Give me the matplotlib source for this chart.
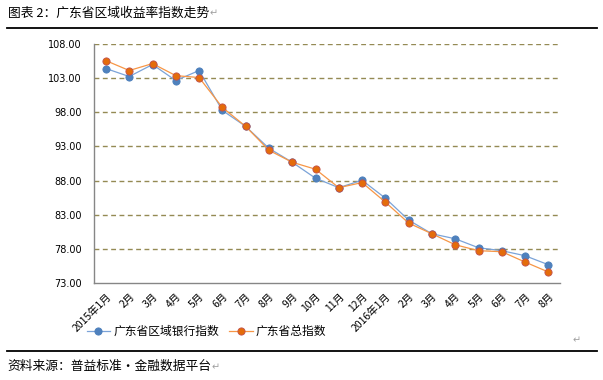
import matplotlib
matplotlib.use('Agg')
import matplotlib.pyplot as plt
from matplotlib.lines import Line2D

plt.rcParams['font.family'] = ['Noto Sans CJK SC', 'DejaVu Sans']

months = ['2015年1月', '2月', '3月', '4月', '5月', '6月', '7月', '8月', '9月', '10月',
          '11月', '12月', '2016年1月', '2月', '3月', '4月', '5月', '6月', '7月', '8月']
bank = [104.44, 103.27, 105.03, 102.68, 104.15, 98.29, 95.95, 92.73, 90.68, 88.34,
        86.95, 88.04, 85.41, 82.19, 80.18, 79.45, 78.13, 77.70, 76.96, 75.64]
total = [105.60, 104.15, 105.17, 103.40, 103.12, 98.73, 95.95, 92.44, 90.68, 89.66,
         86.95, 87.70, 84.83, 81.75, 80.18, 78.57, 77.70, 77.55, 76.03, 74.57]
yticks = [73, 78, 83, 88, 93, 98, 103, 108]
names = ['广东省区域银行指数', '广东省总指数']

W, H = 603, 380
fig = plt.figure(figsize=(W / 100, H / 100), dpi=100)
ax = fig.add_axes([94.3 / W, 1 - 282.7 / H, (560 - 94.3) / W, (282.7 - 44.3) / H])

x = range(len(months))
l1, = ax.plot(x, bank, color='#7BA3D8', lw=0.9, marker='o', ms=5.2,
              mfc='#4F81BD', mec='#4A7EBB', mew=0.6, label=names[0], zorder=3)
l2, = ax.plot(x, total, color='#F79646', lw=0.9, marker='o', ms=5.2,
              mfc='#E46C0A', mec='#C0504D', mew=0.6, label=names[1], zorder=4)

ax.set_xlim(-0.5, len(months) - 0.5)
ax.set_ylim(73, 108)
ax.set_yticks(yticks)
ax.set_yticklabels(['%.2f' % v for v in yticks], fontsize=7, family='DejaVu Sans')
ax.set_xticks(list(x))
ax.set_xticklabels(months, fontsize=7.5, rotation=45, ha='right', va='top',
                   rotation_mode='anchor')
ax.tick_params(axis='both', length=0)
ax.tick_params(axis='y', pad=9)
ax.tick_params(axis='x', pad=6)
for t in yticks[1:]:
    ax.axhline(t, color='#948A54', lw=1, ls=(0, (3.5, 2.5)), zorder=1)
for s in ['top', 'right']:
    ax.spines[s].set_visible(False)
for s in ['left', 'bottom']:
    ax.spines[s].set_color('#868686')
    ax.spines[s].set_linewidth(1)

fig.legend(handles=[l1, l2], loc='center', bbox_to_anchor=(206.5 / W, 1 - 331.7 / H),
           ncol=2, frameon=False, fontsize=8.5, handlelength=2.0, handletextpad=0.25,
           columnspacing=0.9, borderpad=0, borderaxespad=0)

# title, rules and source
fig.text(8 / W, 1 - 13 / H, '图表 2：广东省区域收益率指数走势', fontsize=9.2, va='center')
fig.text(210 / W, 1 - 13 / H, '↵', fontsize=7, color='#A0A0A0', va='center',
         family=['DejaVu Sans'])
fig.add_artist(Line2D([7 / W, 597 / W], [1 - 28.3 / H, 1 - 28.3 / H], color='black', lw=1.3))
fig.add_artist(Line2D([7 / W, 597 / W], [1 - 350.7 / H, 1 - 350.7 / H], color='black', lw=1.3))
fig.text(7 / W, 1 - 366.7 / H, '资料来源：普益标准・金融数据平台', fontsize=9.2, va='center')
fig.text(212 / W, 1 - 367 / H, '↵', fontsize=7, color='#A0A0A0', va='center',
         family=['DejaVu Sans'])
fig.text(573 / W, 1 - 340.7 / H, '↵', fontsize=7, color='#A0A0A0', va='center',
         family=['DejaVu Sans'])

fig.savefig('out.png', dpi=100)
